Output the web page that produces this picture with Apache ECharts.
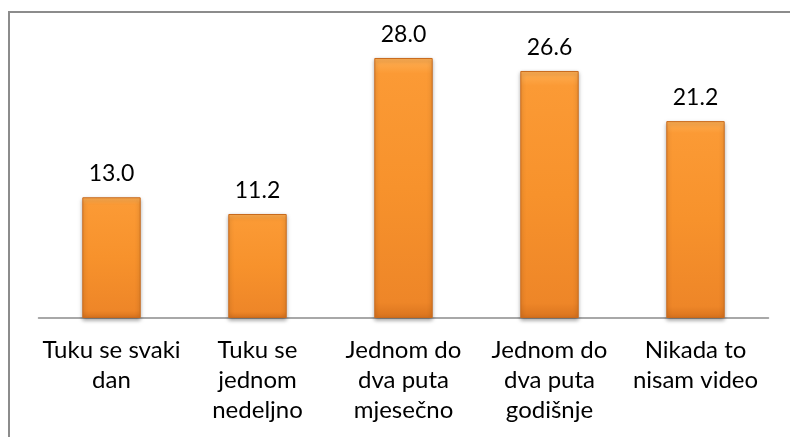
<!DOCTYPE html>
<html>
<head>
<meta charset="utf-8">
<script src="https://cdn.jsdelivr.net/npm/echarts@6/dist/echarts.min.js"></script>
<style>
    html, body { margin: 0; padding: 0; background: #fff; overflow: hidden; }
    #frame {
        position: absolute;
        left: 8px;
        top: 11px;
        width: 900px;
        height: 600px;
        border-top: 2px solid #8c8c8c;
        border-left: 2px solid #8c8c8c;
    }
    #chart { position: absolute; left: 0; top: 0; width: 790px; height: 437px; }
</style>
</head>
<body>
<div id="frame"></div>
<div id="chart"></div>
<script>
// kategorije i vrijednosti (%)
const categories = [
    'Tuku se svaki\ndan',
    'Tuku se\njednom\nnedeljno',
    'Jednom do\ndva puta\nmjesečno',
    'Jednom do\ndva puta\ngodišnje',
    'Nikada to\nnisam video'
]
const values = [13.0, 11.2, 28.0, 26.6, 21.2]

const chart = echarts.init(document.getElementById('chart'))
const barColor = new echarts.graphic.LinearGradient(0, 0, 0, 1, [
    { offset: 0, color: '#ffb055' },
    { offset: 0.06, color: '#fb9a35' },
    { offset: 0.5, color: '#f7922c' },
    { offset: 0.94, color: '#ee8628' },
    { offset: 1, color: '#d9731e' }
])
const option = {
    animation: false,
    grid: { left: 38.5, right: 21.5, top: 39.4, bottom: 119 },
    xAxis: {
        type: 'category',
        data: categories,
        axisLine: { lineStyle: { color: '#8c8c8c', width: 1.5 } },
        axisTick: { show: false },
        axisLabel: {
            interval: 0,
            margin: 17,
            color: '#000',
            fontFamily: 'Lato',
            fontSize: 24,
            lineHeight: 30
        }
    },
    yAxis: {
        type: 'value',
        min: 0,
        max: 30,
        show: false,
        splitLine: { show: false }
    },
    series: [
        {
            type: 'bar',
            data: values,
            barWidth: '40%',
            itemStyle: {
                color: barColor,
                borderColor: '#c96a1c',
                borderWidth: 1,
                shadowBlur: 4,
                shadowColor: 'rgba(0,0,0,0.35)',
                shadowOffsetY: 2
            },
            label: {
                show: true,
                position: 'top',
                distance: 12,
                color: '#000',
                fontFamily: 'Lato',
                fontSize: 23,
                formatter: (p) => p.value.toFixed(1)
            }
        }
    ]
}
chart.setOption(option)
</script>
</body>
</html>
